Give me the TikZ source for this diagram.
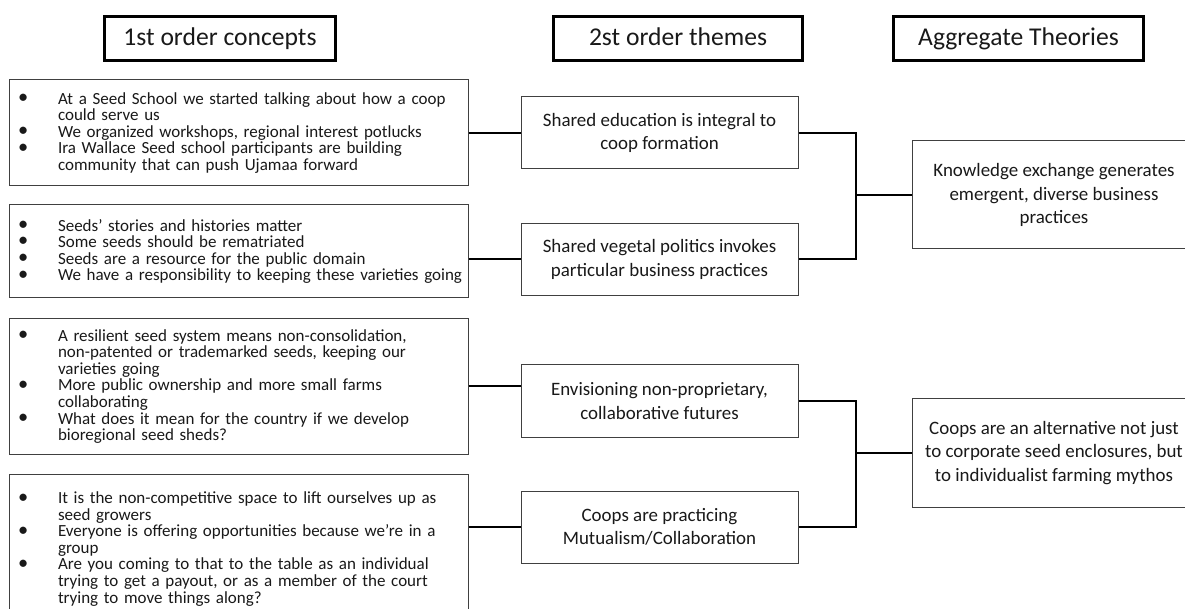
\documentclass[tikz,border=0pt]{standalone}
\usepackage{fontspec}
\usepackage{graphicx}
\setmainfont{Carlito}
\newcommand{\bigbul}{\smash{\raisebox{0.1ex}{\scalebox{1.2}{\textbullet}}}}
\newcommand{\bitem}[1]{\mbox{\makebox[30pt][l]{\bigbul}#1}}
\newcommand{\cont}[1]{\mbox{\hspace*{30pt}#1}}
\tikzset{
  header/.style={draw=black, line width=2.25pt, font=\fontsize{19.2}{23}\selectfont, text=black!90,
    inner sep=0pt, text height=13.5pt, text depth=3.5pt},
  concept/.style={draw=black!75, line width=0.75pt, font=\fontsize{12.75}{12.4}\selectfont, text=black!90,
    inner xsep=6.75pt, inner ysep=0pt, align=left, text width=330.75pt},
  theme/.style={draw=black!75, line width=0.75pt, font=\fontsize{14.2}{17.4}\selectfont, text=black!90,
    align=center, minimum width=277*0.75pt, minimum height=72*0.75pt, inner sep=0pt},
  theory/.style={draw=black!75, line width=0.75pt, font=\fontsize{14.2}{17.6}\selectfont, text=black!90,
    align=center, minimum width=284*0.75pt, minimum height=108*0.75pt, inner sep=0pt},
  link/.style={draw=black, line width=1.5pt}
}
\begin{document}
\begin{tikzpicture}[x=0.75pt,y=-0.75pt]
\useasboundingbox (0,0) rectangle (1185,609);
\clip (0,0) rectangle (1185,609);
\fill[white] (0,0) rectangle (1185,609);

% headers
\node[header, minimum width=231*0.75pt, minimum height=44*0.75pt] (h1) at (220,38.5) {1st order concepts};
\node[header, minimum width=249*0.75pt, minimum height=44*0.75pt] (h2) at (678,38.5) {2st order themes};
\node[header, minimum width=250*0.75pt, minimum height=44*0.75pt] (h3) at (1018.5,38.5) {Aggregate Theories};

% first order concepts
\node[concept, minimum height=106*0.75pt] (l1) at (238.5,133) {%
\bitem{At a Seed School we started talking about how a coop}\\
\cont{could serve us}\\
\bitem{We organized workshops, regional interest potlucks}\\
\bitem{Ira Wallace Seed school participants are building}\\
\cont{community that can push Ujamaa forward}};

\node[concept, minimum height=93*0.75pt] (l2) at (238.5,251.5) {%
\bitem{Seeds’ stories and histories matter}\\
\bitem{Some seeds should be rematriated}\\
\bitem{Seeds are a resource for the public domain}\\
\bitem{We have a responsibility to keeping these varieties going}};

\node[concept, minimum height=135*0.75pt] (l3) at (238.5,386.5) {%
\bitem{A resilient seed system means non-consolidation,}\\
\cont{non-patented or trademarked seeds, keeping our}\\
\cont{varieties going}\\
\bitem{More public ownership and more small farms}\\
\cont{collaborating}\\
\bitem{What does it mean for the country if we develop}\\
\cont{bioregional seed sheds?}};

\node[concept, minimum height=150*0.75pt] (l4) at (238.5,549) {%
\bitem{It is the non-competitive space to lift ourselves up as}\\
\cont{seed growers}\\
\bitem{Everyone is offering opportunities because we’re in a}\\
\cont{group}\\
\bitem{Are you coming to that to the table as an individual}\\
\cont{trying to get a payout, or as a member of the court}\\
\cont{trying to move things along?}};

% second order themes
\node[theme] (m1) at (659.5,133) {Shared education is integral to\\coop formation};
\node[theme] (m2) at (659.5,259.5) {Shared vegetal politics invokes\\particular business practices};
\node[theme] (m3) at (659.5,401) {Envisioning non-proprietary,\\collaborative futures};
\node[theme] (m4) at (659.5,527) {Coops are practicing\\Mutualism/Collaboration};

% aggregate theories
\node[theory] (r1) at (1054,195) {Knowledge exchange generates\\emergent, diverse business\\practices};
\node[theory] (r2) at (1054,453) {Coops are an alternative not just\\to corporate seed enclosures, but\\to individualist farming mythos};

\coordinate (j1) at (856,195);
\coordinate (j2) at (856,453);

% connectors
\draw[link] (l1.east) -- (m1.west);
\draw[link] (m2.west -| l2.east) -- (m2.west);
\draw[link] (l3.east) -- (l3.east -| m3.west);
\draw[link] (m4.west -| l4.east) -- (m4.west);

\draw[link] (m1.east) -| (j1);
\draw[link] (m2.east) -| (j1);
\draw[link] (j1) -- (r1.west);
\draw[link] (m3.east) -| (j2);
\draw[link] (m4.east) -| (j2);
\draw[link] (j2) -- (r2.west);
\end{tikzpicture}
\end{document}
